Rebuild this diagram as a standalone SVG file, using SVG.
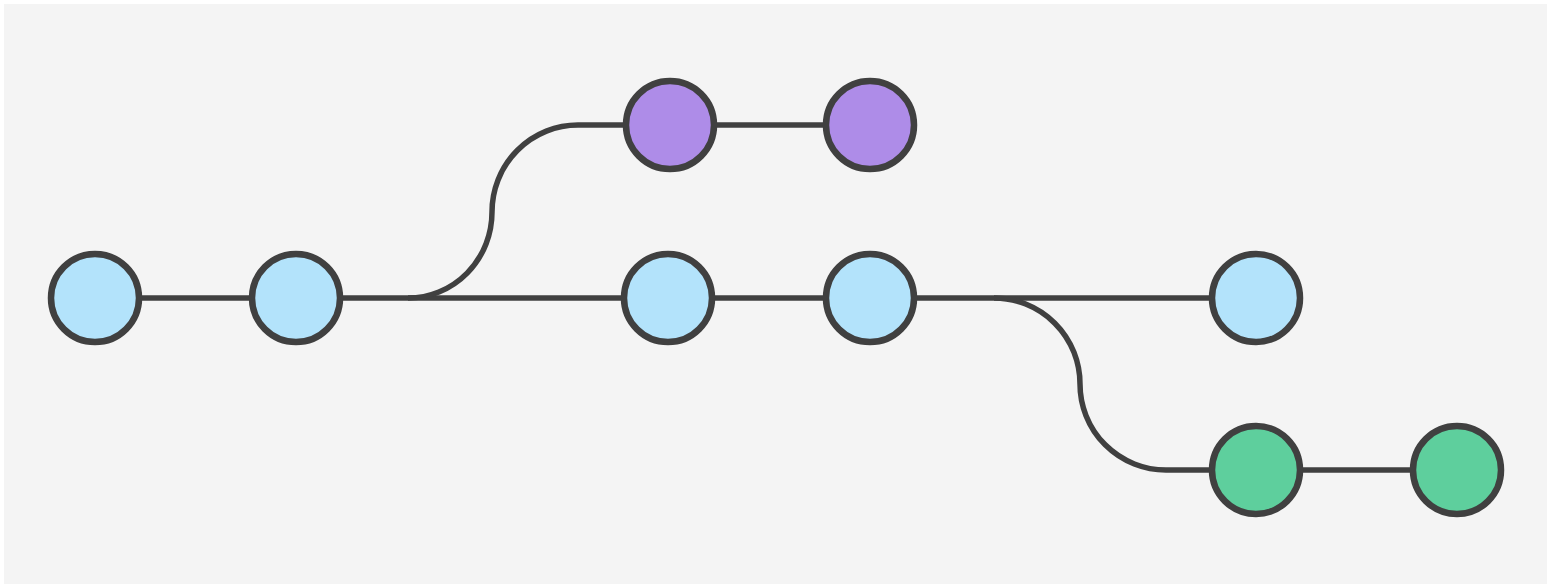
<svg xmlns="http://www.w3.org/2000/svg" width="1547" height="584" viewBox="0 0 1547 584">
<style>
.bg{fill:#f4f4f4}
.edge{fill:none;stroke:#404040;stroke-width:5.5}
.node{stroke:#404040;stroke-width:6.5}
.main{fill:#b3e3fb}
.feat{fill:#ae8ce8}
.fix{fill:#5ecf9d}
</style>
<rect width="1547" height="584" fill="#ffffff"/>
<rect class="bg" x="4" y="4" width="1543" height="580"/>
<g id="connectors">
<path class="edge" d="M95 298 L1256 298"/>
<path class="edge" d="M408 298 A84 86 0 0 0 492 212 A86 87 0 0 1 578 125 L870 125"/>
<path class="edge" d="M994 298 A86 86 0 0 1 1080 384 A86 86 0 0 0 1166 470 L1457 470"/>
</g>
<g id="c1"><circle class="node main" cx="95" cy="298" r="44"/></g>
<g id="c2"><circle class="node main" cx="296" cy="298" r="44"/></g>
<g id="c3"><circle class="node main" cx="668" cy="298" r="44"/></g>
<g id="c4"><circle class="node main" cx="870" cy="298" r="44"/></g>
<g id="c5"><circle class="node main" cx="1256" cy="298" r="44"/></g>
<g id="f1"><circle class="node feat" cx="670" cy="125" r="44"/></g>
<g id="f2"><circle class="node feat" cx="870" cy="125" r="44"/></g>
<g id="g1"><circle class="node fix" cx="1256" cy="470" r="44"/></g>
<g id="g2"><circle class="node fix" cx="1457" cy="470" r="44"/></g>
</svg>
